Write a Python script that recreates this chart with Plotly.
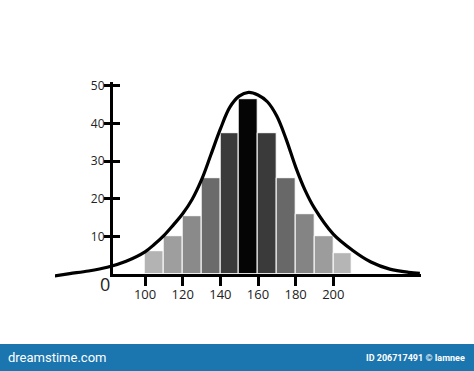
import plotly.graph_objects as go

# ---- data ----
bin_centers = [105, 115, 125, 135, 145, 155, 165, 175, 185, 195, 205]
counts = [6, 10, 15.5, 25.5, 37.5, 46.5, 37.5, 25.5, 16, 10, 5.5]
bar_colors = ["#b3b3b3", "#9e9e9e", "#8a8a8a", "#6b6b6b", "#3a3a3a", "#050505",
              "#3a3a3a", "#686868", "#848484", "#9c9c9c", "#b5b5b5"]

curve_x = [52, 60, 70, 80, 90, 100, 105, 110, 115, 120, 125, 130, 135, 140, 145, 150,
           155, 160, 165, 170, 175, 180, 185, 190, 200, 210, 220, 230, 240, 246]
curve_y = [-0.5, 0.1, 0.8, 1.8, 3.4, 5.9, 7.9, 10.2, 13.0, 16.0, 19.8, 25.0, 31.7, 38.5,
           44.3, 47.3, 48.3, 47.6, 45.8, 42.0, 35.8, 28.5, 22.3, 17.5, 10.6, 6.4, 3.2,
           1.3, 0.45, 0.2]

x_ticks = [100, 120, 140, 160, 180, 200]
y_ticks = [10, 20, 30, 40, 50]

W, H = 474, 371

fig = go.Figure()

fig.add_trace(go.Bar(
    x=bin_centers, y=counts, width=10,
    marker=dict(color=bar_colors, line=dict(color="white", width=1)),
    xaxis="x", yaxis="y", hoverinfo="skip"))

# invisible helper so the overlaid tick axis renders
fig.add_trace(go.Scatter(x=bin_centers, y=counts, mode="markers", opacity=0,
                         xaxis="x", yaxis="y2", hoverinfo="skip"))

fig.add_trace(go.Scatter(
    x=curve_x, y=curve_y, mode="lines",
    line=dict(color="black", width=3.2, shape="spline", smoothing=1.0),
    xaxis="x2", yaxis="y3", hoverinfo="skip"))

fig.update_layout(
    width=W, height=H,
    margin=dict(l=0, r=0, t=0, b=0),
    paper_bgcolor="white", plot_bgcolor="rgba(0,0,0,0)",
    showlegend=False, bargap=0,
    xaxis=dict(domain=[112.7 / W, 421 / W], range=[82.8, 246.6], anchor="y",
               showline=True, linecolor="black", linewidth=2.5,
               ticks="outside", ticklen=9, tickwidth=2.5, tickcolor="black",
               tickvals=x_ticks, ticklabelstandoff=-2,
               tickfont=dict(family="Open Sans", size=13, color="#222222"),
               showgrid=False, zeroline=False, automargin=False),
    yaxis=dict(domain=[(H - 274) / H, (H - 82.2) / H], range=[0, 51], anchor="x",
               showline=True, linecolor="black", linewidth=2.5,
               ticks="outside", ticklen=6, tickwidth=2.5, tickcolor="black",
               tickvals=y_ticks, ticklabelstandoff=-3,
               tickfont=dict(family="Open Sans", size=12, color="#222222"),
               showgrid=False, zeroline=False, automargin=False),
    yaxis2=dict(overlaying="y", anchor="x", side="left", range=[0, 51],
                ticks="inside", ticklen=7, tickwidth=2.5, tickcolor="black",
                tickvals=y_ticks, showticklabels=False, showline=False,
                showgrid=False, zeroline=False),
    xaxis2=dict(domain=[55 / W, 421 / W], range=[52.2, 246.6], anchor="y3",
                visible=False),
    yaxis3=dict(domain=[(H - 280) / H, (H - 82.2) / H], range=[-1.595, 51], anchor="x2",
                visible=False),
)

# origin label
fig.add_annotation(x=82.8, y=0, xref="x", yref="y", text="0", showarrow=False,
                   font=dict(family="Open Sans", size=18, color="#222222"),
                   xanchor="center", yanchor="middle", xshift=-8, yshift=-10)

# bottom watermark band
fig.add_shape(type="rect", xref="paper", yref="paper", x0=0, x1=1, y0=0, y1=(H - 344) / H,
              fillcolor="#1b75ae", line=dict(width=0), layer="above")
fig.add_annotation(x=6 / W, y=(H - 357.5) / H, xref="paper", yref="paper",
                   text="dreamstime.com", showarrow=False, xanchor="left", yanchor="middle",
                   font=dict(family="Roboto", size=13, color="white"))
fig.add_annotation(x=467 / W, y=(H - 357.5) / H, xref="paper", yref="paper",
                   text="<b>ID 206717491 © Iamnee</b>", showarrow=False, xanchor="right",
                   yanchor="middle", font=dict(family="Roboto", size=9, color="white"))

fig.write_html("out.html")
